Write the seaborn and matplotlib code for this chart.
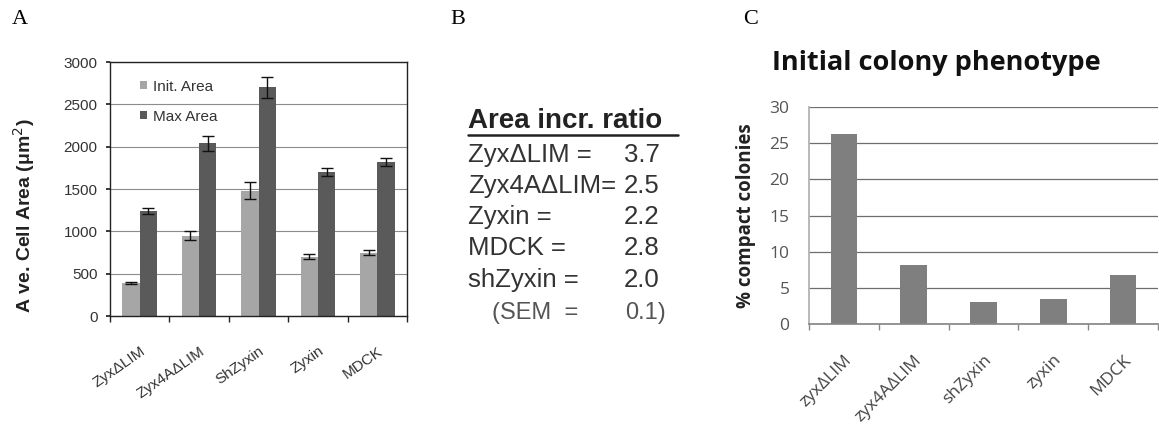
import numpy as np
import pandas as pd
import matplotlib
matplotlib.use("Agg")
import matplotlib.pyplot as plt
import seaborn as sns

# ---------------- data ----------------
cats_a = ["ZyxΔLIM", "Zyx4AΔLIM", "ShZyxin", "Zyxin", "MDCK"]
init_area = [390, 950, 1480, 700, 750]
init_err = [15, 50, 100, 30, 30]
max_area = [1240, 2040, 2700, 1700, 1820]
max_err = [30, 90, 120, 50, 45]
series_a = ["Init. Area", "Max Area"]

ratio_labels = ["ZyxΔLIM =", "Zyx4AΔLIM=", "Zyxin =", "MDCK =", "shZyxin ="]
ratio_values = ["3.7", "2.5", "2.2", "2.8", "2.0"]
sem_label = ["(SEM  =", "0.1)"]

cats_c = ["zyxΔLIM", "zyx4AΔLIM", "shZyxin", "zyxin", "MDCK"]
compact_pct = [26.3, 8.2, 3.1, 3.5, 6.8]

# ---------------- figure ----------------
sns.set_theme(style="white")
plt.rcParams["font.family"] = ["Liberation Sans", "DejaVu Sans"]
W, H = 1159, 426
fig = plt.figure(figsize=(W / 100, H / 100), dpi=100)


def box(l, t, r, b):
    return [l / W, 1 - b / H, (r - l) / W, (b - t) / H]


# ---------- Panel A ----------
axA = fig.add_axes(box(110, 62, 407, 316))
dfA = pd.DataFrame({
    "cat": cats_a * 2,
    "series": [series_a[0]] * 5 + [series_a[1]] * 5,
    "val": init_area + max_area,
})
sns.barplot(data=dfA, x="cat", y="val", hue="series", order=cats_a,
            hue_order=series_a, palette=["#a6a6a6", "#5a5a5a"],
            width=0.58, gap=0, errorbar=None, saturation=1,
            linewidth=0, ax=axA)
bars = [p for p in axA.patches if p.get_height() > 0]
bars = sorted(bars, key=lambda p: p.get_x())
errs = []
for i in range(5):
    errs += [init_err[i], max_err[i]]
xs = [p.get_x() + p.get_width() / 2 for p in bars]
hs = [p.get_height() for p in bars]
axA.errorbar(xs, hs, yerr=errs, fmt="none", ecolor="#111111",
             elinewidth=1, capsize=4, capthick=1, zorder=5)
axA.set_ylim(0, 3000)
axA.set_xlim(-0.5, 4.5)
axA.set_yticks(range(0, 3001, 500))
axA.set_yticklabels([str(v) for v in range(0, 3001, 500)], fontsize=11, color="#333333")
axA.yaxis.grid(True, color="#8c8c8c", linewidth=0.8)
axA.set_axisbelow(True)
axA.set_xticks(range(5))
axA.set_xticklabels(cats_a, rotation=35, ha="right", rotation_mode="anchor",
                    fontsize=11, color="#333333")
axA.set_xticks(np.arange(-0.5, 5, 1), minor=True)
axA.tick_params(axis="x", which="major", length=0, pad=20)
axA.tick_params(axis="x", which="minor", length=4, color="#222222", direction="out", bottom=True)
axA.tick_params(axis="y", length=3, color="#222222", direction="out", left=True, pad=6)
for s in axA.spines.values():
    s.set_color("#222222")
    s.set_linewidth(1)
axA.set_xlabel("")
axA.set_ylabel("A ve. Cell Area (μm$^2$)", fontsize=14, fontweight="bold", color="#222222")
axA.yaxis.set_label_coords((37 - 110) / 297, 0.394)
axA.legend(loc="upper left", bbox_to_anchor=(0.08, 0.955), frameon=False,
           fontsize=11, handlelength=0.45, handleheight=0.45, handletextpad=0.4,
           labelspacing=1.05, labelcolor="#333333", borderaxespad=0)

# ---------- Panel B ----------
fig.text(468 / W, 1 - 121 / H, "Area incr. ratio", fontsize=20, fontweight="bold",
         va="center", ha="left", color="#222222")
fig.add_artist(plt.Line2D([468 / W, 678 / W], [1 - 135 / H, 1 - 135 / H],
                          color="#222222", linewidth=1.8))
ys = [155, 186, 217, 248, 280]
for lab, val, y in zip(ratio_labels, ratio_values, ys):
    fig.text(468 / W, 1 - y / H, lab, fontsize=18.5, va="center", ha="left", color="#333333")
    fig.text(624 / W, 1 - y / H, val, fontsize=18.5, va="center", ha="left", color="#333333")
fig.text(492 / W, 1 - 313 / H, sem_label[0], fontsize=17, va="center", ha="left", color="#555555")
fig.text(625 / W, 1 - 313 / H, sem_label[1], fontsize=17, va="center", ha="left", color="#555555")

# ---------- Panel C ----------
axC = fig.add_axes(box(809, 107, 1158, 324))
dfC = pd.DataFrame({"cat": cats_c, "val": compact_pct})
sns.barplot(data=dfC, x="cat", y="val", order=cats_c, color="#7f7f7f",
            saturation=1, width=0.38, errorbar=None, linewidth=0, ax=axC)
axC.set_ylim(0, 30)
axC.set_xlim(-0.5, 4.5)
axC.set_yticks(range(0, 31, 5))
axC.set_yticklabels([str(v) for v in range(0, 31, 5)], fontsize=12.5,
                    color="#555555", family=["Open Sans", "DejaVu Sans"])
axC.yaxis.grid(True, color="#6e6e6e", linewidth=0.9)
axC.set_axisbelow(True)
axC.set_xticks(range(5))
axC.set_xticklabels(cats_c, rotation=45, ha="right", rotation_mode="anchor",
                    fontsize=12.5, color="#444444", family=["Open Sans", "DejaVu Sans"])
axC.set_xticks(np.arange(-0.5, 5, 1), minor=True)
axC.tick_params(axis="x", which="major", length=0, pad=20)
axC.tick_params(axis="x", which="minor", length=4, color="#888888", direction="out", bottom=True)
axC.tick_params(axis="y", length=0, pad=14)
axC.spines["top"].set_visible(False)
axC.spines["right"].set_visible(False)
axC.spines["left"].set_color("#b0b0b0")
axC.spines["bottom"].set_color("#888888")
axC.set_xlabel("")
axC.set_ylabel("% compact colonies", fontsize=13.5, fontweight="bold",
               family=["Open Sans", "DejaVu Sans"], color="#222222")
axC.yaxis.set_label_coords((756 - 809) / 349, 0.5)
fig.text(772 / W, 1 - 63 / H, "Initial colony phenotype", fontsize=19.5, fontweight="bold",
         family=["Open Sans", "DejaVu Sans"], va="center", ha="left", color="#111111")

# ---------- panel letters ----------
for letter, x in [("A", 12), ("B", 450), ("C", 743)]:
    fig.text(x / W, 1 - 20 / H, letter, fontsize=16, family=["Liberation Serif", "DejaVu Serif"],
             va="center", ha="left", color="#000000")

fig.savefig("out.png", dpi=100, facecolor="white")
